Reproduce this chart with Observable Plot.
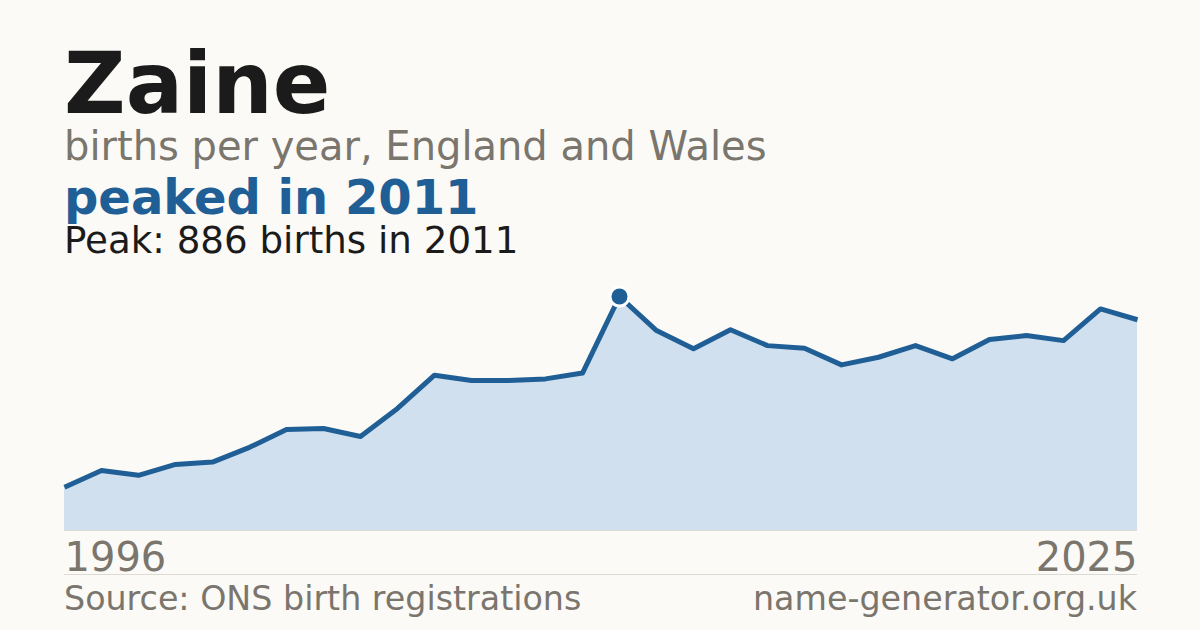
<!DOCTYPE html>
<html>
<head>
<meta charset="utf-8">
<script src="https://cdn.jsdelivr.net/npm/d3@7"></script>
<script src="https://cdn.jsdelivr.net/npm/@observablehq/plot@0.6"></script>
<style>
  html, body { margin: 0; padding: 0; }
  body { width: 1200px; height: 630px; background: #fbfaf6; position: relative; overflow: hidden; font-family: "DejaVu Sans", sans-serif; }
  .t { position: absolute; left: 64px; line-height: 1; white-space: nowrap; margin: 0; }
  #title { top: 41.1px; font-size: 85px; font-weight: bold; color: #1b1b1b; }
  #subtitle { top: 125.5px; font-size: 40px; color: #7a756d; }
  #headline { top: 172.7px; font-size: 48px; font-weight: bold; color: #1f5f96; }
  #peak { top: 222px; font-size: 37.2px; color: #1b1b1b; }
  #chart { position: absolute; left: 60px; top: 280px; }
  #rule { position: absolute; left: 64px; width: 1073px; top: 574px; height: 0; border-top: 1px solid #dddad3; }
  .foot { position: absolute; top: 582px; font-size: 33.3px; color: #7a756d; line-height: 1; white-space: nowrap; }
  #source { left: 64px; }
  #site { right: 63px; }
</style>
</head>
<body>
<div class="t" id="title"></div>
<div class="t" id="subtitle"></div>
<div class="t" id="headline"></div>
<div class="t" id="peak"></div>
<div id="chart"></div>
<div id="rule"></div>
<div class="foot" id="source"></div>
<div class="foot" id="site"></div>
<script>
const name = "Zaine";
const subtitle = "births per year, England and Wales";
const years = [1996,1997,1998,1999,2000,2001,2002,2003,2004,2005,2006,2007,2008,2009,2010,2011,2012,2013,2014,2015,2016,2017,2018,2019,2020,2021,2022,2023,2024,2025];
const births = [164,227,209,250,259,315,382,386,356,462,588,568,568,574,596,886,757,688,760,700,690,627,656,700,650,723,738,719,839,798];
const tickLabels = [1996, 2025];
const source = "Source: ONS birth registrations";
const site = "name-generator.org.uk";

const data = years.map((y, i) => ({year: y, births: births[i]}));
const peakIdx = births.indexOf(d3.max(births));
const peak = data[peakIdx];

document.getElementById("title").textContent = name;
document.getElementById("subtitle").textContent = subtitle;
document.getElementById("headline").textContent = `peaked in ${peak.year}`;
document.getElementById("peak").textContent = `Peak: ${peak.births} births in ${peak.year}`;
document.getElementById("source").textContent = source;
document.getElementById("site").textContent = site;

const chart = Plot.plot({
  width: 1081,
  height: 292,
  marginLeft: 4,
  marginRight: 4,
  marginTop: 16,
  marginBottom: 42,
  style: {background: "transparent", fontFamily: "DejaVu Sans, sans-serif", overflow: "visible"},
  x: {domain: [years[0], years[years.length - 1]], axis: null},
  y: {domain: [0, peak.births], axis: null},
  marks: [
    Plot.areaY(data, {x: "year", y: "births", fill: "#d0e0ef"}),
    Plot.ruleY([0], {stroke: "#dcdad4", strokeWidth: 1}),
    Plot.lineY(data, {x: "year", y: "births", stroke: "#1f5f96", strokeWidth: 5, strokeLinejoin: "round", strokeLinecap: "butt"}),
    Plot.dot([peak], {x: "year", y: "births", r: 9.5, fill: "#1f5f96", stroke: "#ffffff", strokeWidth: 3}),
    Plot.text([tickLabels[0]], {x: d => d, y: 0, text: d => String(d), textAnchor: "start", lineAnchor: "bottom", dy: 40, fontSize: 40, fill: "#7a756d"}),
    Plot.text([tickLabels[1]], {x: d => d, y: 0, text: d => String(d), textAnchor: "end", lineAnchor: "bottom", dy: 40, fontSize: 40, fill: "#7a756d"})
  ]
});
document.getElementById("chart").appendChild(chart);
</script>
</body>
</html>
